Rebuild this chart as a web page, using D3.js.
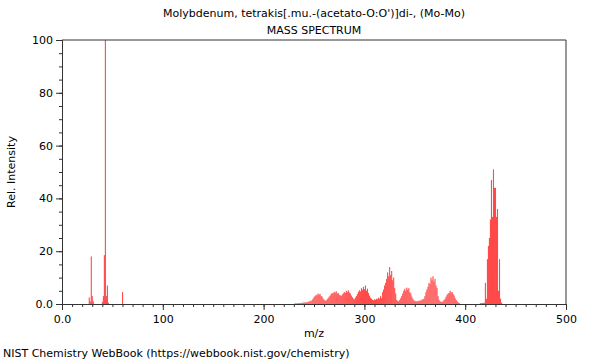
<!DOCTYPE html>
<html><head><meta charset="utf-8">
<script src="https://cdn.jsdelivr.net/npm/d3@7"></script>
<style>body{margin:0;background:#fff}svg{font-family:"DejaVu Sans",sans-serif}</style>
</head><body>
<svg id="c" width="600" height="360"></svg>
<script>
const title = "Molybdenum, tetrakis[.mu.-(acetato-O:O')]di-, (Mo-Mo)";
const subtitle = "MASS SPECTRUM";
const xTicks = [0, 100, 200, 300, 400, 500];
const xTickLabels = ["0.0", "100", "200", "300", "400", "500"];
const yTicks = [0, 20, 40, 60, 80, 100];
const yTickLabels = ["0.0", "20", "40", "60", "80", "100"];

const mzLow = [27, 28, 29, 30, 31, 40, 41, 42, 43, 44, 45, 46, 60];
const intLow = [2.5, 1, 18, 3, 1, 0.8, 3, 18.5, 100, 3, 7, 0.5, 4.5];

const mzMid = [231,232,233,234,235,236,237,238,239,240,241,242,243,244,245,246,247,248,249,250,
  251,252,253,254,255,256,257,258,259,260,261,262,263,264,265,266,267,268,269,270,
  271,272,273,274,275,276,277,278,279,280,281,282,283,284,285,286,287,288,289,290,
  291,292,293,294,295,296,297,298,299,300,301,302,303,304,305,306,307,308,309,310,
  311,312,313,314,315,316,317,318,319,320,321,322,323,324,325,326,327,328,329,330,
  331,332,333,334,335,336,337,338,339,340,341,342,343,344,345,346,347,348,349,350,
  351,352,353,354,355,356,357,358,359,360,361,362,363,364,365,366,367,368,369,370,
  371,372,373,374,375,376,377,378,379,380,381,382,383,384,385,386,387,388,389,390,
  391,392,393,394];
const intMid = [0.2,0.3,0.2,0.3,0.3,0.4,0.3,0.5,0.4,0.6,0.5,0.7,0.6,0.8,0.9,1.2,1.0,1.5,2.0,2.6,
  3.0,3.5,3.3,4.0,3.6,3.8,3.0,2.8,2.0,1.6,1.2,1.4,1.8,2.2,2.8,3.2,3.8,4.2,4.0,4.6,
  4.3,4.8,4.0,4.2,3.5,3.3,3.0,3.6,4.0,4.5,4.2,5.0,4.6,5.2,4.4,4.0,3.2,2.6,2.0,1.8,
  2.4,3.0,3.8,4.6,5.2,4.8,6.0,5.4,6.5,5.6,7.0,5.0,5.8,4.2,3.2,2.4,2.0,1.6,1.4,1.8,
  1.6,2.0,1.8,2.4,2.0,3.0,2.2,4.5,5.5,7.0,8.0,9.5,12.0,10.5,14.0,11.0,12.5,9.0,10.0,6.0,
  4.0,1.5,1.2,1.0,1.5,2.2,3.0,4.0,5.0,5.8,5.0,6.2,5.4,6.0,4.5,4.0,2.8,2.0,1.4,1.2,
  1.0,1.0,1.2,1.0,1.4,1.2,1.6,1.8,2.0,3.0,4.5,5.5,6.5,8.0,7.5,10.0,9.0,10.5,8.5,9.5,
  7.0,6.0,3.0,1.5,1.0,0.8,0.8,1.0,1.5,2.0,2.8,3.5,4.0,4.2,5.0,4.4,4.6,3.8,3.2,2.2,
  1.5,1.0,0.6,0.4];

const mzHigh = [415,416,417,418,419,420,421,422,423,424,425,426,427,428,429,430,431,432,433,434,435,436];
const intHigh = [0.3,0.3,0.4,0.3,0.5,8,2,17,22,25,32,47,33,51,44,44,33,36,5,17,2,0.5];

const peaks = [];
[[mzLow, intLow], [mzMid, intMid], [mzHigh, intHigh]].forEach(([m, v]) => m.forEach((d, i) => peaks.push({mz: d, y: v[i]})));

const svg = d3.select("#c");
const L = 62, R = 566, T = 40, B = 304;
const x = d3.scaleLinear().domain([0, 500]).range([L, R]);
const y = d3.scaleLinear().domain([0, 100]).range([B, T]);

// bars
svg.append("g").selectAll("rect").data(peaks).join("rect")
  .attr("x", d => x(d.mz) - 0.5)
  .attr("width", 1.1)
  .attr("y", d => y(d.y))
  .attr("height", d => B - y(d.y))
  .attr("fill", "#ff4a4a");

// frame
svg.append("line").attr("x1", L).attr("x2", R).attr("y1", T).attr("y2", T).attr("stroke", "#333");
svg.append("line").attr("x1", R).attr("x2", R).attr("y1", T).attr("y2", B).attr("stroke", "#333");

// x axis
const xa = svg.append("g").attr("transform", `translate(0,${B})`);
xa.call(d3.axisBottom(x).tickValues(d3.range(0, 501, 10)).tickSize(3).tickFormat(""));
xa.call(g => g.selectAll(".tick line").attr("stroke", "#333"));
const xa2 = svg.append("g").attr("transform", `translate(0,${B})`);
xa2.call(d3.axisBottom(x).tickValues(xTicks).tickSize(6).tickFormat((d, i) => xTickLabels[i]));
xa2.selectAll("text").attr("font-size", 11).attr("fill", "#000").attr("dy", "0.95em");
xa2.selectAll("line, path").attr("stroke", "#333");

// y axis
const ya = svg.append("g").attr("transform", `translate(${L},0)`);
ya.call(d3.axisLeft(y).tickValues(d3.range(0, 101, 5)).tickSize(3).tickFormat(""));
ya.call(g => g.selectAll(".tick line").attr("stroke", "#333"));
const ya2 = svg.append("g").attr("transform", `translate(${L},0)`);
ya2.call(d3.axisLeft(y).tickValues(yTicks).tickSize(6).tickFormat((d, i) => yTickLabels[i]));
ya2.selectAll("text").attr("font-size", 11).attr("fill", "#000");
ya2.selectAll("line, path").attr("stroke", "#333");
svg.selectAll(".domain").attr("stroke", "#333");

svg.selectAll("g text").attr("font-family", "DejaVu Sans");

// labels
svg.append("text").attr("x", 314).attr("y", 17).attr("text-anchor", "middle").attr("font-size", 11).text(title);
svg.append("text").attr("x", 314).attr("y", 34).attr("text-anchor", "middle").attr("font-size", 11).text(subtitle);
svg.append("text").attr("x", 314).attr("y", 337).attr("text-anchor", "middle").attr("font-size", 11).text("m/z");
svg.append("text").attr("transform", "translate(15,172) rotate(-90)").attr("text-anchor", "middle").attr("font-size", 11).text("Rel. Intensity");
svg.append("text").attr("x", 3).attr("y", 357).attr("font-size", 11).text("NIST Chemistry WebBook (https://webbook.nist.gov/chemistry)");
</script>
</body></html>
